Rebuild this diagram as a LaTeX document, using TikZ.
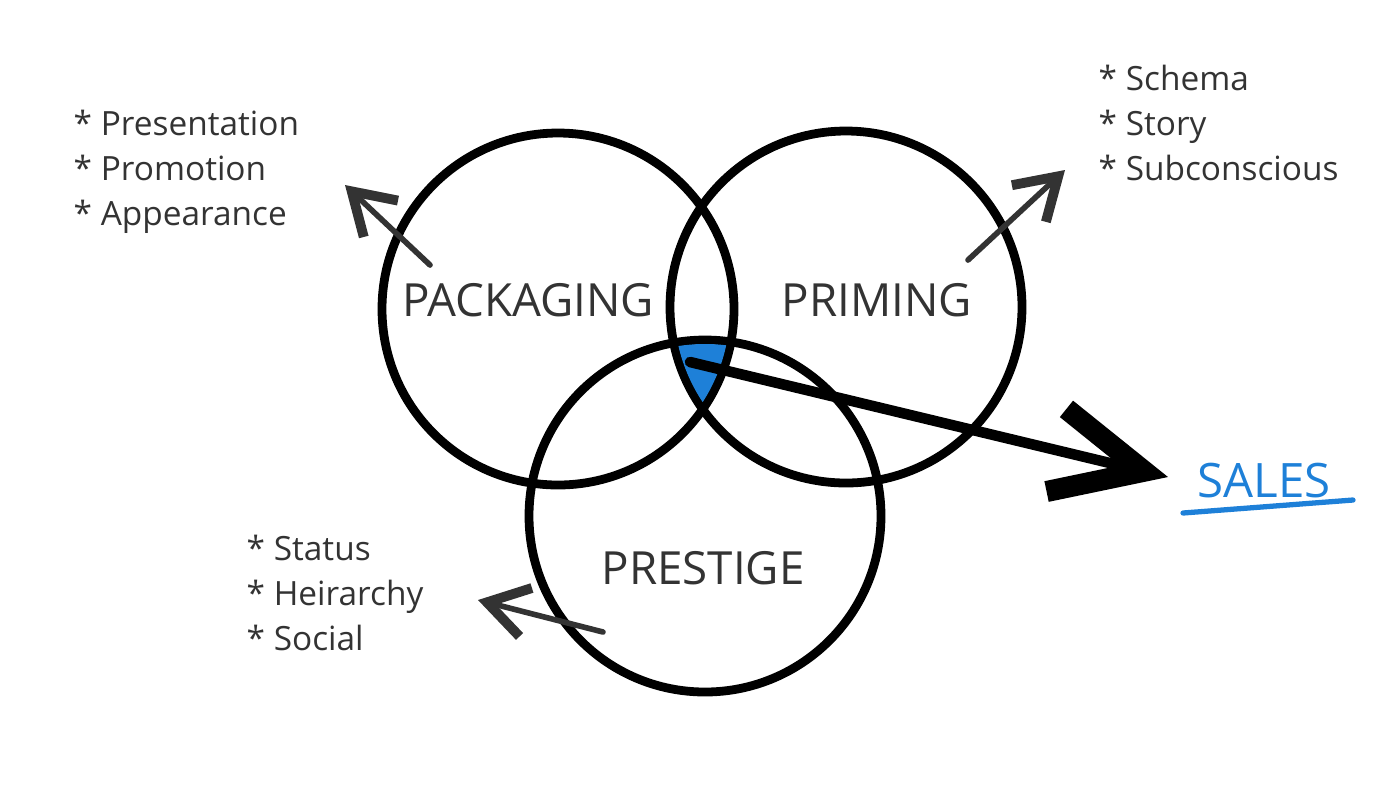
\documentclass[tikz,border=0pt]{standalone}
\usepackage{fontspec}
\setmainfont{Open Sans}
\usetikzlibrary{arrows.meta}
\definecolor{salesblue}{RGB}{30,128,216}
\definecolor{inkgray}{RGB}{51,51,51}
\begin{document}
\begin{tikzpicture}[
        ring/.style={circle, draw, line width=2.5pt, minimum size=3.52cm, inner sep=0pt},
        title/.style={font=\fontsize{13}{15}\selectfont, text=inkgray},
        points/.style={font=\fontsize{9.5}{12.8}\selectfont, text=inkgray, align=left, anchor=north west, inner sep=0pt},
        pointer/.style={inkgray, line width=1.6pt, line cap=round, -{Straight Barb[length=4mm, width=5mm, line width=2.8pt]}},
        bigpointer/.style={black, line width=3pt, line cap=round, -{Straight Barb[length=9mm, width=8.5mm, line width=6pt]}}
    ]
        \useasboundingbox (0,0) rectangle (14,-7.87);

        % Les trois cercles
        \node[ring] (pack) at (5.58,-3.09) {};
        \node[ring] (prim) at (8.46,-3.07) {};
        \node[ring] (pres) at (7.05,-5.16) {};

        % Zone commune en bleu
        \begin{scope}
            \clip (pack.center) circle (1.72);
            \clip (prim.center) circle (1.72);
            \fill[salesblue] (pres.center) circle (1.72);
        \end{scope}

        % Titres des cercles
        \node[title] (packlabel) at (5.28,-3.00) {PACKAGING};
        \node[title] (primlabel) at (8.77,-3.00) {PRIMING};
        \node[title] (preslabel) at (7.03,-5.68) {PRESTIGE};

        % Listes
        \node[points] (packlist) at (0.73,-1.09) {* Presentation\\* Promotion\\* Appearance};
        \node[points] (primlist) at (10.98,-0.64) {* Schema\\* Story\\* Subconscious};
        \node[points] (preslist) at (2.46,-5.34) {* Status\\* Heirarchy\\* Social};

        % Ventes
        \node[font=\fontsize{13.5}{16}\selectfont, text=salesblue] (sales) at (12.64,-4.81) {SALES};
        \coordinate (ulstart) at (11.83,-5.13);
        \coordinate (ulend) at (13.53,-5.00);
        \draw[salesblue, line width=1.5pt, line cap=round] (ulstart) -- (ulend);

        % Flèches
        \coordinate (packtail) at (4.30,-2.65);
        \coordinate (packtip) at (3.45,-1.85);
        \coordinate (primtail) at (9.68,-2.60);
        \coordinate (primtip) at (10.65,-1.70);
        \coordinate (prestail) at (6.03,-6.32);
        \coordinate (prestip) at (4.78,-6.00);
        \coordinate (bigtail) at (6.90,-3.62);
        \coordinate (bigtip) at (11.68,-4.77);

        \draw[pointer] (packtail) -- (packtip);
        \draw[pointer] (primtail) -- (primtip);
        \draw[pointer] (prestail) -- (prestip);
        \draw[bigpointer] (bigtail) -- (bigtip);
\end{tikzpicture}
\end{document}
